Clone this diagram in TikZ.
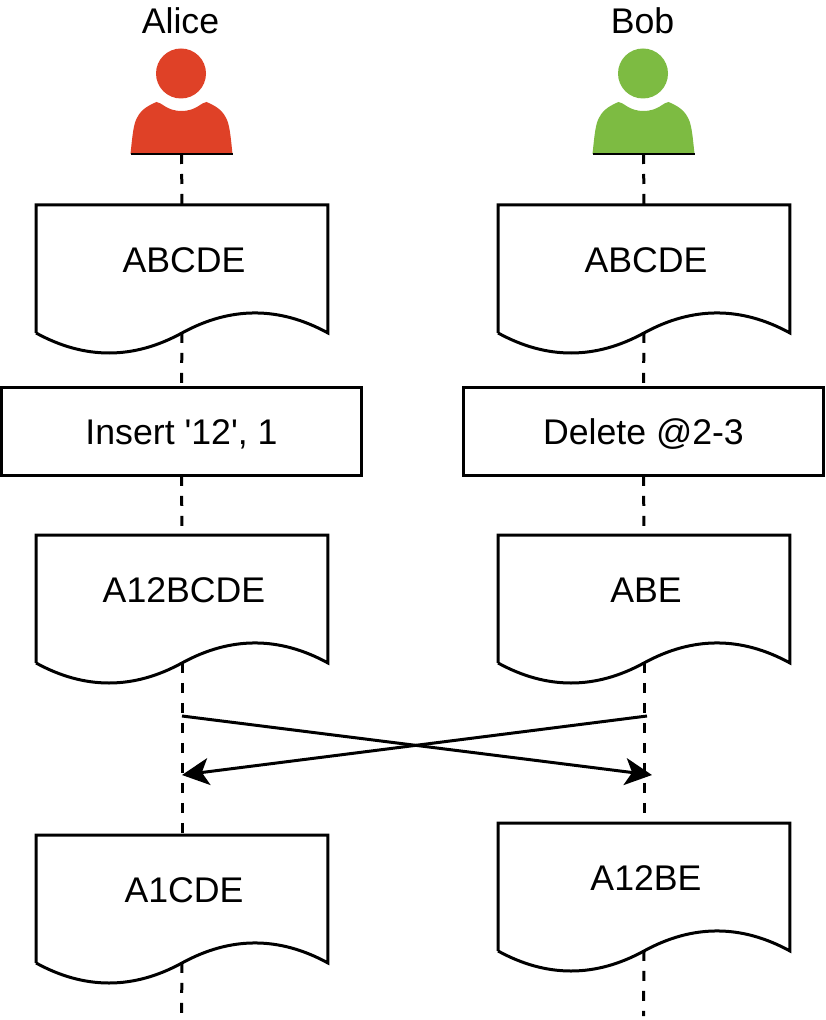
\documentclass[tikz,border=0pt]{standalone}
\usepackage{fontspec}
\setmainfont{Liberation Sans}
\usetikzlibrary{arrows.meta}
\definecolor{alicered}{HTML}{DF4127}
\definecolor{bobgreen}{HTML}{7DBB42}
\tikzstyle{doc}=[rectangle,minimum width=5.84cm,minimum height=2.56cm,inner sep=0pt,outer sep=0pt,anchor=north]
\tikzstyle{op}=[rectangle,draw=black,fill=white,line width=0.06cm,minimum width=7.22cm,minimum height=1.78cm,inner sep=0pt,outer sep=0pt,anchor=north,text height=0.54cm,text depth=0pt]
\tikzstyle{annot}=[align=center,inner sep=0pt]
\tikzstyle{person}=[rectangle,minimum width=2.02cm,minimum height=2.14cm,inner sep=0pt,outer sep=0pt,anchor=south]
\tikzstyle{life}=[line width=0.06cm,dash pattern=on 0.2cm off 0.2cm]
\tikzstyle{msg}=[line width=0.06cm,-{Stealth[length=0.54cm,width=0.54cm,inset=0.14cm]}]
\newcommand{\biglabel}{\fontsize{20.3}{24}\selectfont}
% document shape with the wavy lower edge
\newcommand{\drawdoc}[5]
{
  \node[doc](#1) at (#2,#3){};
  \draw[line width=0.06cm,fill=white,line join=miter] (#1.south west) -- (#1.north west) -- (#1.north east) -- (#1.south east)
    .. controls +(-48.7,-26.7) and +(48.7,-26.7) .. (#1.south)
    .. controls +(-48.7,26.7) and +(48.7,26.7) .. (#1.south west);
  \node[annot] (#1text) at (#2+2,#4) {\biglabel #5};
}
\newcommand{\drawperson}[4]
{
  \node[person](#1) at (#2,154){};
  \fill[#3] (#2-0.5,73.5) circle (25);
  \begin{scope}[shift={(#2,0)}]
    \fill[#3] (-51,154) .. controls (-49,135) and (-48,123) .. (-44,117)
      .. controls (-40,109) and (-32,105) .. (-25,102)
      .. controls (-20,102) and (-15,111) .. (0,111)
      .. controls (15,111) and (20,102) .. (25,102)
      .. controls (32,105) and (40,109) .. (44,117)
      .. controls (48,123) and (49,135) .. (51,154) -- cycle;
    \draw[line width=0.03cm] (-51,154) -- (51,154);
  \end{scope}
  \node[annot] (#1label) at (#2-1,21) {\biglabel #4};
}
\begin{document}
\begin{tikzpicture}[x=0.02cm,y=-0.02cm]
	\useasboundingbox (0,0) rectangle (825,1020);

	\drawperson{alice}{181.5}{alicered}{Alice}
	\drawperson{bob}{643.5}{bobgreen}{Bob}

	\drawdoc{adocone}{182}{205}{260}{ABCDE}
	\drawdoc{bdocone}{644}{205}{260}{ABCDE}
	\node[op](aop) at (181.5,387){\biglabel Insert \textquotesingle 12\textquotesingle, 1};
	\node[op](bop) at (643.5,387){\biglabel Delete @2-3};
	\drawdoc{adoctwo}{182}{535}{590}{A12BCDE}
	\drawdoc{bdoctwo}{644}{535}{590}{ABE}
	\drawdoc{adocthree}{182}{835}{890}{A1CDE}
	\drawdoc{bdocthree}{644}{823}{878}{A12BE}

	\coordinate (aend) at (181.5,1016);
	\coordinate (bend) at (643.5,1016);

	\draw[life] (alice.south) -- (adocone.north);
	\draw[life] (bob.south) -- (bdocone.north);
	\draw[life] (adocone.south) -- (aop.north);
	\draw[life] (bdocone.south) -- (bop.north);
	\draw[life] (aop.south) -- (adoctwo.north);
	\draw[life] (bop.south) -- (bdoctwo.north);
	\draw[life] (adoctwo.south) -- (adocthree.north);
	\draw[life] (bdoctwo.south) -- (bdocthree.north);
	\draw[life] (adocthree.south) -- (aend);
	\draw[life] (bdocthree.south) -- (bend);

	\coordinate (afrom) at (182,716);
	\coordinate (bfrom) at (647,716);
	\coordinate (ato) at (182,775);
	\coordinate (bto) at (652,775);
	\draw[msg] (afrom) -- (bto);
	\draw[msg] (bfrom) -- (ato);

\end{tikzpicture}
\end{document}
